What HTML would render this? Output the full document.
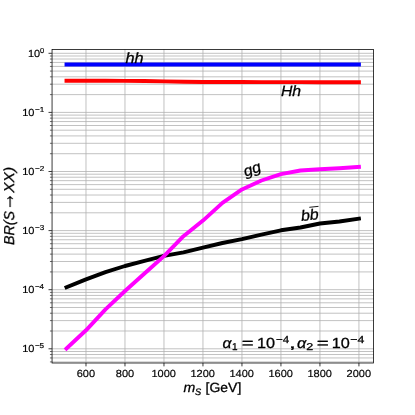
<!DOCTYPE html>
<html lang="en"><head><meta charset="utf-8"><title>BR(S → XX) vs m_S</title>
<style>
html,body{margin:0;padding:0;background:#fff;}
body{width:415px;height:415px;overflow:hidden;font-family:"Liberation Sans",sans-serif;}
svg{display:block;}
text{font-family:"Liberation Sans",sans-serif;fill:#000;text-rendering:geometricPrecision;}
.it{font-style:italic;}
</style></head><body>
<svg width="415" height="415" viewBox="0 0 415 415">
<defs><filter id="g" filterUnits="userSpaceOnUse" x="0" y="0" width="415" height="415"><feOffset dx="0" dy="0"/></filter></defs>
<rect x="0" y="0" width="415" height="415" fill="#fff"/>
<g stroke="#b0b0b0" stroke-width="0.77" fill="none">
<line x1="85.99" y1="49.5" x2="85.99" y2="363.0"/>
<line x1="124.98" y1="49.5" x2="124.98" y2="363.0"/>
<line x1="163.97" y1="49.5" x2="163.97" y2="363.0"/>
<line x1="202.96" y1="49.5" x2="202.96" y2="363.0"/>
<line x1="241.96" y1="49.5" x2="241.96" y2="363.0"/>
<line x1="280.95" y1="49.5" x2="280.95" y2="363.0"/>
<line x1="319.94" y1="49.5" x2="319.94" y2="363.0"/>
<line x1="358.93" y1="49.5" x2="358.93" y2="363.0"/>
<line x1="51.875" y1="361.91" x2="373.55" y2="361.91"/>
<line x1="51.875" y1="357.95" x2="373.55" y2="357.95"/>
<line x1="51.875" y1="354.53" x2="373.55" y2="354.53"/>
<line x1="51.875" y1="351.50" x2="373.55" y2="351.50"/>
<line x1="51.875" y1="348.80" x2="373.55" y2="348.80"/>
<line x1="51.875" y1="331.01" x2="373.55" y2="331.01"/>
<line x1="51.875" y1="320.60" x2="373.55" y2="320.60"/>
<line x1="51.875" y1="313.22" x2="373.55" y2="313.22"/>
<line x1="51.875" y1="307.49" x2="373.55" y2="307.49"/>
<line x1="51.875" y1="302.81" x2="373.55" y2="302.81"/>
<line x1="51.875" y1="298.85" x2="373.55" y2="298.85"/>
<line x1="51.875" y1="295.43" x2="373.55" y2="295.43"/>
<line x1="51.875" y1="292.40" x2="373.55" y2="292.40"/>
<line x1="51.875" y1="289.70" x2="373.55" y2="289.70"/>
<line x1="51.875" y1="271.91" x2="373.55" y2="271.91"/>
<line x1="51.875" y1="261.50" x2="373.55" y2="261.50"/>
<line x1="51.875" y1="254.12" x2="373.55" y2="254.12"/>
<line x1="51.875" y1="248.39" x2="373.55" y2="248.39"/>
<line x1="51.875" y1="243.71" x2="373.55" y2="243.71"/>
<line x1="51.875" y1="239.75" x2="373.55" y2="239.75"/>
<line x1="51.875" y1="236.33" x2="373.55" y2="236.33"/>
<line x1="51.875" y1="233.30" x2="373.55" y2="233.30"/>
<line x1="51.875" y1="230.60" x2="373.55" y2="230.60"/>
<line x1="51.875" y1="212.81" x2="373.55" y2="212.81"/>
<line x1="51.875" y1="202.40" x2="373.55" y2="202.40"/>
<line x1="51.875" y1="195.02" x2="373.55" y2="195.02"/>
<line x1="51.875" y1="189.29" x2="373.55" y2="189.29"/>
<line x1="51.875" y1="184.61" x2="373.55" y2="184.61"/>
<line x1="51.875" y1="180.65" x2="373.55" y2="180.65"/>
<line x1="51.875" y1="177.23" x2="373.55" y2="177.23"/>
<line x1="51.875" y1="174.20" x2="373.55" y2="174.20"/>
<line x1="51.875" y1="171.50" x2="373.55" y2="171.50"/>
<line x1="51.875" y1="153.71" x2="373.55" y2="153.71"/>
<line x1="51.875" y1="143.30" x2="373.55" y2="143.30"/>
<line x1="51.875" y1="135.92" x2="373.55" y2="135.92"/>
<line x1="51.875" y1="130.19" x2="373.55" y2="130.19"/>
<line x1="51.875" y1="125.51" x2="373.55" y2="125.51"/>
<line x1="51.875" y1="121.55" x2="373.55" y2="121.55"/>
<line x1="51.875" y1="118.13" x2="373.55" y2="118.13"/>
<line x1="51.875" y1="115.10" x2="373.55" y2="115.10"/>
<line x1="51.875" y1="112.40" x2="373.55" y2="112.40"/>
<line x1="51.875" y1="94.61" x2="373.55" y2="94.61"/>
<line x1="51.875" y1="84.20" x2="373.55" y2="84.20"/>
<line x1="51.875" y1="76.82" x2="373.55" y2="76.82"/>
<line x1="51.875" y1="71.09" x2="373.55" y2="71.09"/>
<line x1="51.875" y1="66.41" x2="373.55" y2="66.41"/>
<line x1="51.875" y1="62.45" x2="373.55" y2="62.45"/>
<line x1="51.875" y1="59.03" x2="373.55" y2="59.03"/>
<line x1="51.875" y1="56.00" x2="373.55" y2="56.00"/>
<line x1="51.875" y1="53.30" x2="373.55" y2="53.30"/>
</g>
<polyline points="66.50,64.45 85.99,64.45 105.49,64.45 124.98,64.45 144.48,64.45 163.97,64.45 183.47,64.45 202.96,64.45 222.46,64.45 241.96,64.45 261.45,64.50 280.95,64.50 300.44,64.50 319.94,64.50 339.43,64.50 358.93,64.50" fill="none" stroke="#0000ff" stroke-width="3.9" stroke-linecap="square" stroke-linejoin="round"/>
<polyline points="66.50,80.75 85.99,80.75 105.49,80.80 124.98,80.90 144.48,81.00 163.97,81.35 183.47,81.70 202.96,81.95 222.46,82.00 241.96,82.05 261.45,82.10 280.95,82.10 300.44,82.15 319.94,82.20 339.43,82.20 358.93,82.25" fill="none" stroke="#ff0000" stroke-width="3.9" stroke-linecap="square" stroke-linejoin="round"/>
<polyline points="66.50,287.30 85.99,279.40 105.49,272.20 124.98,266.00 144.48,260.90 163.97,255.90 183.47,252.30 202.96,247.60 222.46,243.00 241.96,239.20 261.45,234.70 280.95,230.30 300.44,227.50 319.94,223.50 339.43,221.50 358.93,218.70" fill="none" stroke="#000000" stroke-width="3.9" stroke-linecap="square" stroke-linejoin="round"/>
<polyline points="66.50,348.50 85.99,330.30 105.49,309.40 124.98,291.00 144.48,273.50 163.97,256.10 183.47,236.20 202.96,220.60 222.46,202.90 241.96,189.40 261.45,180.50 280.95,174.10 300.44,170.50 319.94,169.20 339.43,168.25 358.93,166.90" fill="none" stroke="#ff00ff" stroke-width="3.9" stroke-linecap="square" stroke-linejoin="round"/>
<g stroke="#000" fill="none">
<line x1="85.99" y1="363.0" x2="85.99" y2="366.36" stroke-width="0.77"/>
<line x1="124.98" y1="363.0" x2="124.98" y2="366.36" stroke-width="0.77"/>
<line x1="163.97" y1="363.0" x2="163.97" y2="366.36" stroke-width="0.77"/>
<line x1="202.96" y1="363.0" x2="202.96" y2="366.36" stroke-width="0.77"/>
<line x1="241.96" y1="363.0" x2="241.96" y2="366.36" stroke-width="0.77"/>
<line x1="280.95" y1="363.0" x2="280.95" y2="366.36" stroke-width="0.77"/>
<line x1="319.94" y1="363.0" x2="319.94" y2="366.36" stroke-width="0.77"/>
<line x1="358.93" y1="363.0" x2="358.93" y2="366.36" stroke-width="0.77"/>
<line x1="49.95" y1="361.91" x2="51.875" y2="361.91" stroke-width="0.58"/>
<line x1="49.95" y1="357.95" x2="51.875" y2="357.95" stroke-width="0.58"/>
<line x1="49.95" y1="354.53" x2="51.875" y2="354.53" stroke-width="0.58"/>
<line x1="49.95" y1="351.50" x2="51.875" y2="351.50" stroke-width="0.58"/>
<line x1="48.52" y1="348.80" x2="51.875" y2="348.80" stroke-width="0.77"/>
<line x1="49.95" y1="331.01" x2="51.875" y2="331.01" stroke-width="0.58"/>
<line x1="49.95" y1="320.60" x2="51.875" y2="320.60" stroke-width="0.58"/>
<line x1="49.95" y1="313.22" x2="51.875" y2="313.22" stroke-width="0.58"/>
<line x1="49.95" y1="307.49" x2="51.875" y2="307.49" stroke-width="0.58"/>
<line x1="49.95" y1="302.81" x2="51.875" y2="302.81" stroke-width="0.58"/>
<line x1="49.95" y1="298.85" x2="51.875" y2="298.85" stroke-width="0.58"/>
<line x1="49.95" y1="295.43" x2="51.875" y2="295.43" stroke-width="0.58"/>
<line x1="49.95" y1="292.40" x2="51.875" y2="292.40" stroke-width="0.58"/>
<line x1="48.52" y1="289.70" x2="51.875" y2="289.70" stroke-width="0.77"/>
<line x1="49.95" y1="271.91" x2="51.875" y2="271.91" stroke-width="0.58"/>
<line x1="49.95" y1="261.50" x2="51.875" y2="261.50" stroke-width="0.58"/>
<line x1="49.95" y1="254.12" x2="51.875" y2="254.12" stroke-width="0.58"/>
<line x1="49.95" y1="248.39" x2="51.875" y2="248.39" stroke-width="0.58"/>
<line x1="49.95" y1="243.71" x2="51.875" y2="243.71" stroke-width="0.58"/>
<line x1="49.95" y1="239.75" x2="51.875" y2="239.75" stroke-width="0.58"/>
<line x1="49.95" y1="236.33" x2="51.875" y2="236.33" stroke-width="0.58"/>
<line x1="49.95" y1="233.30" x2="51.875" y2="233.30" stroke-width="0.58"/>
<line x1="48.52" y1="230.60" x2="51.875" y2="230.60" stroke-width="0.77"/>
<line x1="49.95" y1="212.81" x2="51.875" y2="212.81" stroke-width="0.58"/>
<line x1="49.95" y1="202.40" x2="51.875" y2="202.40" stroke-width="0.58"/>
<line x1="49.95" y1="195.02" x2="51.875" y2="195.02" stroke-width="0.58"/>
<line x1="49.95" y1="189.29" x2="51.875" y2="189.29" stroke-width="0.58"/>
<line x1="49.95" y1="184.61" x2="51.875" y2="184.61" stroke-width="0.58"/>
<line x1="49.95" y1="180.65" x2="51.875" y2="180.65" stroke-width="0.58"/>
<line x1="49.95" y1="177.23" x2="51.875" y2="177.23" stroke-width="0.58"/>
<line x1="49.95" y1="174.20" x2="51.875" y2="174.20" stroke-width="0.58"/>
<line x1="48.52" y1="171.50" x2="51.875" y2="171.50" stroke-width="0.77"/>
<line x1="49.95" y1="153.71" x2="51.875" y2="153.71" stroke-width="0.58"/>
<line x1="49.95" y1="143.30" x2="51.875" y2="143.30" stroke-width="0.58"/>
<line x1="49.95" y1="135.92" x2="51.875" y2="135.92" stroke-width="0.58"/>
<line x1="49.95" y1="130.19" x2="51.875" y2="130.19" stroke-width="0.58"/>
<line x1="49.95" y1="125.51" x2="51.875" y2="125.51" stroke-width="0.58"/>
<line x1="49.95" y1="121.55" x2="51.875" y2="121.55" stroke-width="0.58"/>
<line x1="49.95" y1="118.13" x2="51.875" y2="118.13" stroke-width="0.58"/>
<line x1="49.95" y1="115.10" x2="51.875" y2="115.10" stroke-width="0.58"/>
<line x1="48.52" y1="112.40" x2="51.875" y2="112.40" stroke-width="0.77"/>
<line x1="49.95" y1="94.61" x2="51.875" y2="94.61" stroke-width="0.58"/>
<line x1="49.95" y1="84.20" x2="51.875" y2="84.20" stroke-width="0.58"/>
<line x1="49.95" y1="76.82" x2="51.875" y2="76.82" stroke-width="0.58"/>
<line x1="49.95" y1="71.09" x2="51.875" y2="71.09" stroke-width="0.58"/>
<line x1="49.95" y1="66.41" x2="51.875" y2="66.41" stroke-width="0.58"/>
<line x1="49.95" y1="62.45" x2="51.875" y2="62.45" stroke-width="0.58"/>
<line x1="49.95" y1="59.03" x2="51.875" y2="59.03" stroke-width="0.58"/>
<line x1="49.95" y1="56.00" x2="51.875" y2="56.00" stroke-width="0.58"/>
<line x1="48.52" y1="53.30" x2="51.875" y2="53.30" stroke-width="0.77"/>
</g>
<rect x="52.05" y="49.5" width="321.500" height="313.500" fill="none" stroke="#000" stroke-width="0.77"/>
<g filter="url(#g)" stroke="#000" stroke-width="0.18" stroke-linejoin="round">
<text><tspan x="76.74" y="376.90" font-size="10.25" textLength="18.38" lengthAdjust="spacingAndGlyphs">600</tspan></text>
<text><tspan x="115.77" y="376.90" font-size="10.25" textLength="18.38" lengthAdjust="spacingAndGlyphs">800</tspan></text>
<text><tspan x="151.51" y="376.90" font-size="10.25" textLength="24.51" lengthAdjust="spacingAndGlyphs">1000</tspan></text>
<text><tspan x="190.50" y="376.90" font-size="10.25" textLength="24.51" lengthAdjust="spacingAndGlyphs">1200</tspan></text>
<text><tspan x="229.50" y="376.90" font-size="10.25" textLength="24.51" lengthAdjust="spacingAndGlyphs">1400</tspan></text>
<text><tspan x="268.49" y="376.90" font-size="10.25" textLength="24.51" lengthAdjust="spacingAndGlyphs">1600</tspan></text>
<text><tspan x="307.48" y="376.90" font-size="10.25" textLength="24.51" lengthAdjust="spacingAndGlyphs">1800</tspan></text>
<text><tspan x="346.61" y="376.90" font-size="10.25" textLength="24.51" lengthAdjust="spacingAndGlyphs">2000</tspan></text>
<text><tspan x="27.97" y="56.85" font-size="10.25" textLength="12.16" lengthAdjust="spacingAndGlyphs">10</tspan><tspan x="40.11" y="52.85" font-size="7.2" textLength="4.19" lengthAdjust="spacingAndGlyphs">0</tspan></text>
<text><tspan x="22.16" y="115.95" font-size="10.25" textLength="12.27" lengthAdjust="spacingAndGlyphs">10</tspan><tspan x="34.90" y="111.95" font-size="7.2" textLength="9.30" lengthAdjust="spacingAndGlyphs">−1</tspan></text>
<text><tspan x="22.16" y="175.05" font-size="10.25" textLength="12.27" lengthAdjust="spacingAndGlyphs">10</tspan><tspan x="34.90" y="171.05" font-size="7.2" textLength="9.31" lengthAdjust="spacingAndGlyphs">−2</tspan></text>
<text><tspan x="22.16" y="234.15" font-size="10.25" textLength="12.27" lengthAdjust="spacingAndGlyphs">10</tspan><tspan x="34.90" y="230.15" font-size="7.2" textLength="9.26" lengthAdjust="spacingAndGlyphs">−3</tspan></text>
<text><tspan x="22.16" y="293.25" font-size="10.25" textLength="12.27" lengthAdjust="spacingAndGlyphs">10</tspan><tspan x="34.91" y="289.25" font-size="7.2" textLength="9.13" lengthAdjust="spacingAndGlyphs">−4</tspan></text>
<text><tspan x="22.16" y="352.35" font-size="10.25" textLength="12.27" lengthAdjust="spacingAndGlyphs">10</tspan><tspan x="34.90" y="348.35" font-size="7.2" textLength="9.24" lengthAdjust="spacingAndGlyphs">−5</tspan></text>
</g>
<g filter="url(#g)" stroke="#000" stroke-width="0.28" stroke-linejoin="round">
<text><tspan class="it" x="183.56" y="392.30" font-size="13.6" textLength="11.79" lengthAdjust="spacingAndGlyphs">m</tspan><tspan class="it" x="194.94" y="394.70" font-size="9.4" textLength="6.16" lengthAdjust="spacingAndGlyphs">S</tspan><tspan x="205.60" y="392.40" font-size="13.3" textLength="35.69" lengthAdjust="spacingAndGlyphs">[GeV]</tspan></text>
<text transform="translate(14.1,0) rotate(-90)"><tspan class="it" x="-245.04" y="0.00" font-size="14.5" textLength="34.19" lengthAdjust="spacingAndGlyphs">BR(S</tspan><tspan class="it" x="-210.76" y="0.10" font-size="24.0" textLength="18.42" lengthAdjust="spacingAndGlyphs">→</tspan><tspan class="it" x="-192.80" y="0.00" font-size="14.5" textLength="25.93" lengthAdjust="spacingAndGlyphs">XX)</tspan></text>
<text><tspan class="it" x="125.53" y="62.80" font-size="15.0" textLength="18.17" lengthAdjust="spacingAndGlyphs">hh</tspan></text>
<text><tspan class="it" x="280.91" y="96.40" font-size="15.0" textLength="20.21" lengthAdjust="spacingAndGlyphs">Hh</tspan></text>
<text transform="translate(245.4,176.7) rotate(-20)"><tspan class="it" x="-0.03" y="0.00" font-size="15.0" textLength="17.57" lengthAdjust="spacingAndGlyphs">gg</tspan></text>
<text transform="translate(301.6,221.0) rotate(-6)"><tspan class="it" x="-0.23" y="0.00" font-size="15.0" textLength="17.72" lengthAdjust="spacingAndGlyphs">bb</tspan></text>
<line x1="309.3" y1="207.3" x2="318.5" y2="206.35" stroke="#000" stroke-width="0.9"/>
<text><tspan class="it" x="222.56" y="348.40" font-size="14.6" textLength="8.97" lengthAdjust="spacingAndGlyphs">α</tspan><tspan x="231.94" y="349.90" font-size="10.0" textLength="5.55" lengthAdjust="spacingAndGlyphs">1</tspan><tspan x="241.71" y="348.40" font-size="14.6" textLength="11.90" lengthAdjust="spacingAndGlyphs">=</tspan><tspan x="256.96" y="348.40" font-size="14.6" textLength="18.07" lengthAdjust="spacingAndGlyphs">10</tspan><tspan x="276.03" y="342.50" font-size="10.2" textLength="13.21" lengthAdjust="spacingAndGlyphs">−4</tspan><tspan x="288.90" y="348.40" font-size="14.6" textLength="6.79" lengthAdjust="spacingAndGlyphs">,</tspan><tspan class="it" x="297.04" y="348.40" font-size="14.6" textLength="9.27" lengthAdjust="spacingAndGlyphs">α</tspan><tspan x="306.37" y="349.90" font-size="10.0" textLength="6.96" lengthAdjust="spacingAndGlyphs">2</tspan><tspan x="316.79" y="348.40" font-size="14.6" textLength="12.02" lengthAdjust="spacingAndGlyphs">=</tspan><tspan x="331.66" y="348.40" font-size="14.6" textLength="18.07" lengthAdjust="spacingAndGlyphs">10</tspan><tspan x="350.29" y="342.50" font-size="10.2" textLength="14.07" lengthAdjust="spacingAndGlyphs">−4</tspan></text>
</g>
</svg></body></html>
